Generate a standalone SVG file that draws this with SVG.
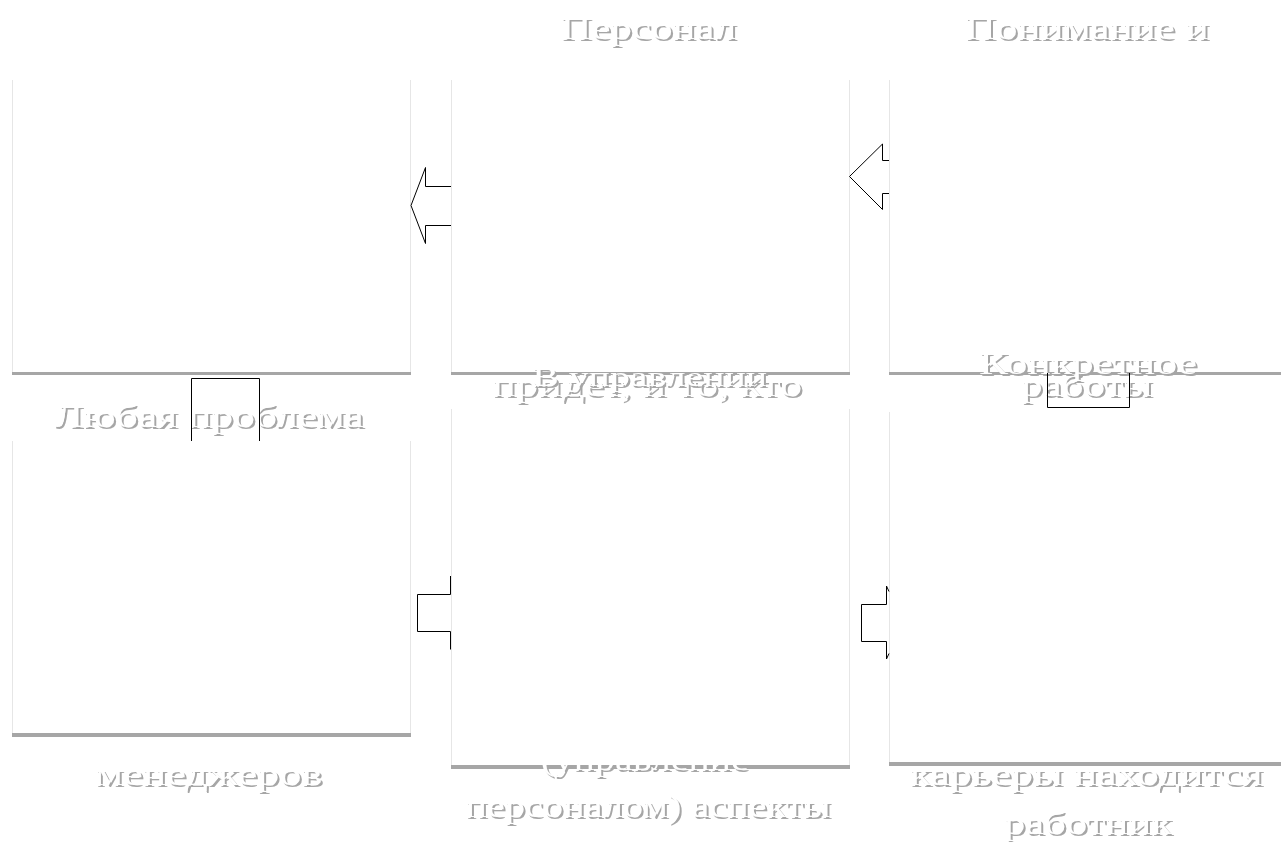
<svg xmlns="http://www.w3.org/2000/svg" width="1281" height="842" viewBox="0 0 1281 842">
  <defs>
    <filter id="ts" x="-5%" y="-30%" width="110%" height="160%">
      <feDropShadow dx="2" dy="2" stdDeviation="0.3" flood-color="#a6a6a6" flood-opacity="1"/>
    </filter>
    <clipPath id="clipE">
      <rect x="440" y="765" width="420" height="80"/>
    </clipPath>
  </defs>
  <style>
    .box { fill: #ffffff; stroke: none; }
    .side { stroke: #e6e6e6; stroke-width: 1; fill: none; }
    .band { fill: #a6a6a6; }
    .lbl { font-family: "Liberation Serif", "Times New Roman", serif; font-size: 32px; fill: #ffffff; text-anchor: middle; filter: url(#ts); }
    .arrow { fill: none; stroke: #000000; stroke-width: 1; stroke-linejoin: miter; }
  </style>
  <rect width="1281" height="842" fill="#ffffff"/>

  <g id="node-a">
    <rect class="box" x="12" y="80" width="398" height="292"/>
    <path class="side" d="M12.5,80 V372 M410.5,80 V372"/>
    <rect class="band" x="12" y="372" width="399" height="3"/>
  </g>

  <g id="node-b">
    <rect class="box" x="451" y="80" width="398" height="292"/>
    <path class="side" d="M451.5,80 V372 M849.5,80 V372"/>
    <rect class="band" x="451" y="372" width="399" height="3"/>
    <text class="lbl" x="648.5" y="39" textLength="176" lengthAdjust="spacingAndGlyphs">Персонал</text>
    <text class="lbl" x="647.3" y="396" textLength="310" lengthAdjust="spacingAndGlyphs">придет, и то, кто</text>
  </g>

  <g id="node-c">
    <rect class="box" x="889" y="80" width="398" height="292"/>
    <path class="side" d="M889.5,80 V372"/>
    <rect class="band" x="889" y="372" width="399" height="3"/>
    <text class="lbl" x="1086.8" y="39" textLength="244" lengthAdjust="spacingAndGlyphs">Понимание и</text>
    <text class="lbl" x="1086.8" y="396" textLength="131" lengthAdjust="spacingAndGlyphs">работы</text>
  </g>

  <g id="node-d">
    <rect class="box" x="12" y="441" width="398" height="292"/>
    <path class="side" d="M12.5,441 V733 M410.5,441 V733"/>
    <rect class="band" x="12" y="733" width="399" height="4"/>
    <text class="lbl" x="208.8" y="427" textLength="310" lengthAdjust="spacingAndGlyphs">Любая проблема</text>
    <text class="lbl" x="208.8" y="785" textLength="227" lengthAdjust="spacingAndGlyphs">менеджеров</text>
  </g>

  <g id="node-e">
    <rect class="box" x="451" y="409" width="398" height="356"/>
    <path class="side" d="M451.5,409 V765 M849.5,409 V765"/>
    <rect class="band" x="451" y="765" width="399" height="4"/>
    <text class="lbl" x="649.7" y="386" textLength="235" lengthAdjust="spacingAndGlyphs" style="font-size:28px">В управлении</text>
    <g clip-path="url(#clipE)">
      <text class="lbl" x="644.7" y="770" textLength="208" lengthAdjust="spacingAndGlyphs">(управление</text>
    </g>
    <text class="lbl" x="648" y="817" textLength="365" lengthAdjust="spacingAndGlyphs">персоналом) аспекты</text>
  </g>

  <g id="node-f">
    <rect class="box" x="889" y="412" width="398" height="350"/>
    <path class="side" d="M889.5,412 V762"/>
    <rect class="band" x="889" y="762" width="399" height="4"/>
    <text class="lbl" x="1088" y="374" textLength="218" lengthAdjust="spacingAndGlyphs">Конкретное</text>
    <text class="lbl" x="1086.3" y="785" textLength="353" lengthAdjust="spacingAndGlyphs">карьеры находится</text>
    <text class="lbl" x="1088" y="834" textLength="168" lengthAdjust="spacingAndGlyphs">работник</text>
  </g>

  <g id="connectors">
    <path class="arrow" d="M451,186.5 H425.5 V167.5 L411,205.5 L425.5,243.5 V225.5 H451"/>
    <path class="arrow" d="M889,160.5 H882.5 V144 L849.5,176.5 L882.5,209.5 V193.5 H889"/>
    <path class="arrow" d="M1047.5,373 V407.5 H1129.5 V373"/>
    <path class="arrow" d="M191.5,441 V378.5 H259.5 V441"/>
    <path class="arrow" d="M450.5,576 V594.5 H417.5 V631.5 H450.5 V649.5"/>
    <path class="arrow" d="M889,591.5 L886.5,586 V604.5 H861.5 V641.5 H886.5 V659 L889,653.5"/>
  </g>
</svg>
